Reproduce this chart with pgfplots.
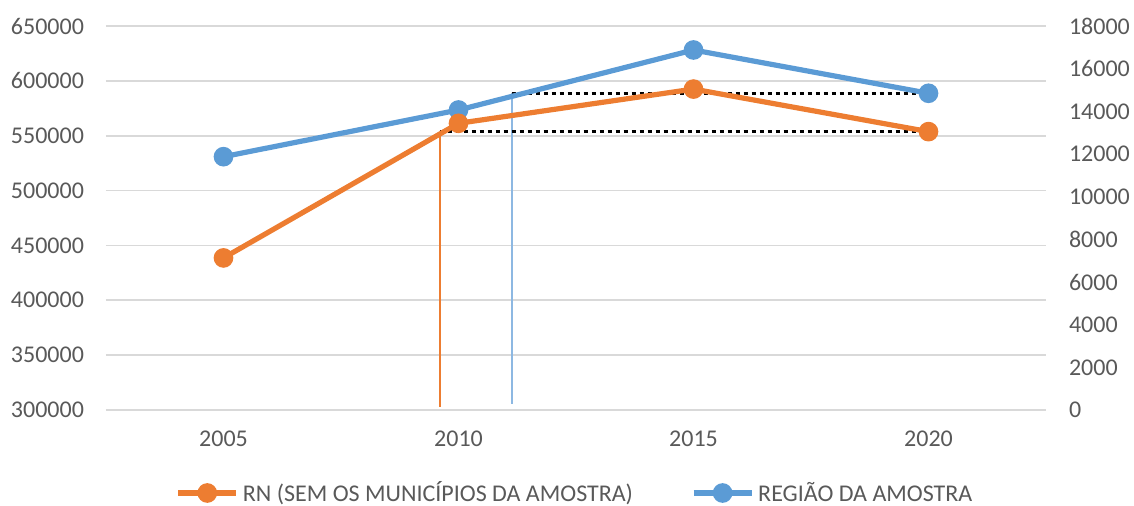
\documentclass[border=0pt]{standalone}
\usepackage{pgfplots}
\pgfplotsset{compat=1.18}
\usepackage{fontspec}
\setmainfont{Carlito}
\definecolor{cOrange}{HTML}{ED7D31}
\definecolor{cBlue}{HTML}{5B9BD5}
\definecolor{cLBlue}{HTML}{8DB8E2}
\definecolor{cGrid}{HTML}{D9D9D9}
\definecolor{cText}{HTML}{595959}
\pgfplotsset{
  common/.style={
    scale only axis, width=470pt, height=192pt,
    at={(0,0)}, anchor=south west,
    xmin=2002.5, xmax=2022.5,
    major tick length=0pt,
    axis line style={draw=none},
    tick label style={font=\fontsize{12}{14}\selectfont, text=cText},
    /pgf/number format/assume math mode=true,
    /pgf/number format/1000 sep={},
    scaled y ticks=false,
    yticklabel style={/pgf/number format/fixed, /pgf/number format/precision=0},
    clip=false,
  },
}
\begin{document}
\begin{tikzpicture}
\path[use as bounding box] (-53pt,-48pt) rectangle (514pt,205pt);
% right axis: blue series (also carries the grid at the left-axis positions)
\begin{axis}[common,
  axis y line*=right,
  ymin=0, ymax=18000, ytick={0,2000,...,18000},
  xtick=\empty,
  yticklabel style={anchor=west, xshift=8pt},
  extra y ticks={0,2571.43,5142.86,7714.29,10285.71,12857.14,15428.57,18000},
  extra y tick labels={},
  extra y tick style={grid=major, major grid style={cGrid, line width=0.8pt}},
]
\addplot[color=cLBlue, solid, no markers, line width=0.9pt, forget plot] coordinates {(2011.13,14845) (2011.13,280)};
\addplot[black, line width=1.7pt, dash pattern=on 2pt off 2pt, forget plot] coordinates {(2011.13,14845) (2019.94,14845)};
\addplot[cBlue, line width=2.6pt, mark=*, mark size=3.6pt, mark options={solid}] coordinates {
  (2005,11873) (2010,14062) (2015,16875) (2020,14845)
};
\end{axis}
% left axis: orange series, legend
\begin{axis}[common,
  axis y line*=left,
  xtick={2005,2010,2015,2020},
  xticklabel style={yshift=-7pt},
  ymin=300000, ymax=650000, ytick={300000,350000,...,650000},
  yticklabel style={anchor=east, xshift=-7.5pt},
  legend style={draw=none, fill=none, at={(0.5,0)}, anchor=center, yshift=-41.5pt,
    font=\fontsize{12}{14}\selectfont, text=cText, legend columns=2,
    /tikz/every even column/.append style={column sep=27pt},
    legend cell align=left},
  legend image code/.code={
    \draw[#1, mark repeat=2, mark phase=2] plot coordinates {(0pt,0pt) (14.5pt,0pt) (29pt,0pt)};
  },
]
\addplot[color=cOrange, solid, no markers, line width=0.8pt, forget plot] coordinates {(2009.6,553700) (2009.6,302500)};
\addplot[black, line width=1.7pt, dash pattern=on 2pt off 2pt, forget plot] coordinates {(2009.6,553700) (2019.94,553700)};
\addplot[cOrange, line width=2.6pt, mark=*, mark size=3.6pt, mark options={solid}] coordinates {
  (2005,438600) (2010,561300) (2015,592500) (2020,553700)
};
\addlegendentry{RN (SEM OS MUNICÍPIOS DA AMOSTRA)}
\addlegendimage{cBlue, line width=2.6pt, mark=*, mark size=3.6pt, mark options={solid}}
\addlegendentry{REGIÃO DA AMOSTRA}
\end{axis}
\end{tikzpicture}
\end{document}
